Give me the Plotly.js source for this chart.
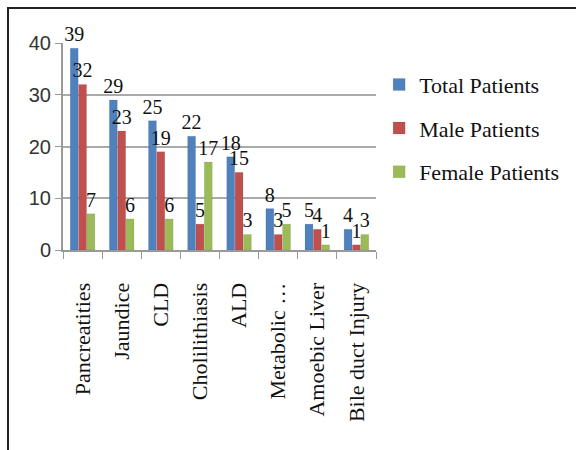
<!DOCTYPE html>
<html><head><meta charset="utf-8">
<script src="https://cdn.plot.ly/plotly-3.0.1.min.js"></script>
<style>
html,body{margin:0;padding:0;background:#fff;}
#wrap{position:relative;width:576px;height:450px;}
#chart{width:576px;height:450px;}
#frame{position:absolute;left:7px;top:7px;width:569px;height:443px;border-left:2px solid #222;border-top:2px solid #222;pointer-events:none;}
</style></head>
<body>
<div id="wrap"><div id="chart"></div><div id="frame"></div></div>
<script>
const categories = ["Pancreatities","Jaundice","CLD","Cholilithiasis","ALD","Metabolic …","Amoebic Liver","Bile duct Injury"];
const totalPatients = [39,29,25,22,18,8,5,4];
const malePatients = [32,23,19,5,15,3,4,1];
const femalePatients = [7,6,6,17,3,5,1,3];
const seriesNames = ["Total Patients","Male Patients","Female Patients"];
const colors = ["#4F81BD","#C0504D","#9BBB59"];
const yTicks = [0,10,20,30,40];

const series = [totalPatients, malePatients, femalePatients];
const traces = series.map((vals,i)=>({
  type:'bar', x:categories, y:vals, name:seriesNames[i],
  legendgroup:'g'+i,
  marker:{color:colors[i], line:{color:'rgba(0,0,0,0.15)', width:0.5}},
  text:vals.map(String), textposition:'outside', cliponaxis:false, constraintext:'none',
  textfont:{family:'Liberation Serif, serif', size:20, color:'#111'}
}));

const layout = {
  width:576, height:450,
  margin:{l:63, r:179, t:43, b:200},
  paper_bgcolor:'#fff', plot_bgcolor:'#fff',
  barmode:'group', bargap:0.36, bargroupgap:0.05,
  showlegend:true,
  legend:{x:1.01, y:0.9, xanchor:'left', yanchor:'top', traceorder:'grouped', tracegroupgap:12,
    font:{family:'Liberation Serif, serif', size:22, color:'#111'}, bgcolor:'rgba(0,0,0,0)'},
  xaxis:{type:'category', tickangle:-90, showline:true, linecolor:'#999', linewidth:2,
    ticks:'outside', ticklen:7, tickcolor:'#999', tickson:'boundaries', ticklabelstandoff:22,
    tickfont:{family:'Liberation Serif, serif', size:22, color:'#111'}},
  yaxis:{range:[0,40], tickvals:yTicks, showgrid:true, gridcolor:'#AAAAAA', gridwidth:2,
    showline:true, linecolor:'#999', linewidth:2, ticks:'outside', ticklen:6, tickcolor:'#999',
    zeroline:false, ticklabelstandoff:0,
    tickfont:{family:'Liberation Sans, sans-serif', size:20, color:'#333'}}
};
Plotly.newPlot('chart', traces, layout, {displayModeBar:false, staticPlot:true});
</script>
</body></html>
